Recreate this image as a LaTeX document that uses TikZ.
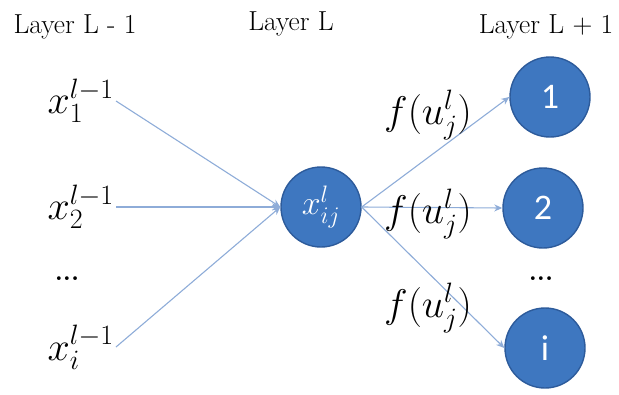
\RequirePackage{fix-cm}
\documentclass[tikz,border=0pt]{standalone}
\usepackage{amsmath}
\usepackage{fontspec}
\newfontfamily\circfont{Carlito}
\usepackage{xcolor}
\usetikzlibrary{arrows.meta}
\definecolor{NeuronC}{HTML}{3E77C0}
\definecolor{NeuronEdge}{HTML}{2D5B9B}
\definecolor{LinkC}{HTML}{8EACD8}

\begin{document}
\begin{tikzpicture}[x=1pt,y=-1pt,
  neuron/.style={circle,fill=NeuronC,draw=NeuronEdge,line width=1.4pt,
    minimum size=80pt,inner sep=0pt,text=white},
  link/.style={LinkC,line width=1.1pt,-{Stealth[length=8pt,width=7pt]}},
  layertitle/.style={font=\rmfamily\fontsize{27.5}{32}\selectfont,inner sep=0pt},
  mathlabel/.style={font=\fontsize{40}{46}\selectfont,inner sep=2pt},
  dotsrow/.style={font=\rmfamily\fontsize{26}{30}\selectfont\bfseries,inner sep=0pt}]
\useasboundingbox (0,0) rectangle (619,394);

% ================= titles =================
\node[layertitle] (tprev) at (75,27) {Layer L - 1};
\node[layertitle] (tcur)  at (291,24) {Layer L};
\node[layertitle] (tnext) at (546,27) {Layer L + 1};

% ================= layer L-1: inputs =================
\node[mathlabel,anchor=east] (xa) at (116,101) {$x_1^{l-1}$};
\node[mathlabel,anchor=east] (xb) at (116,207) {$x_2^{l-1}$};
\node[dotsrow] (ldots) at (67,279) {...};
\node[mathlabel,anchor=east] (xn) at (116,347) {$x_i^{l-1}$};

% ================= layer L: the unit =================
\node[neuron,font=\fontsize{34}{40}\selectfont] (xc) at (321,207) {$x_{ij}^{l}$};

% ================= layer L+1 =================
\node[neuron,font=\circfont\fontsize{36}{40}\selectfont] (na) at (550,97) {1};
\node[neuron,font=\circfont\fontsize{36}{40}\selectfont] (nb) at (543,208) {2};
\node[dotsrow] (rdots) at (541,279) {...};
\node[neuron,font=\circfont\fontsize{36}{40}\selectfont] (nn) at (545,348) {i};

% connections in
\foreach \s in {xa,xb,xn}
  \draw[link] (\s.east) -- (xc.west);
% connections out
\foreach \t in {na,nb,nn}
  \draw[link] (xc.east) -- (\t.west);

% activations on the outgoing links
\node[mathlabel] (fa) at (428,115) {$f(u_j^l)$};
\node[mathlabel] (fb) at (428,214) {$f(u_j^l)$};
\node[mathlabel] (fn) at (428,308) {$f(u_j^l)$};
\end{tikzpicture}
\end{document}
